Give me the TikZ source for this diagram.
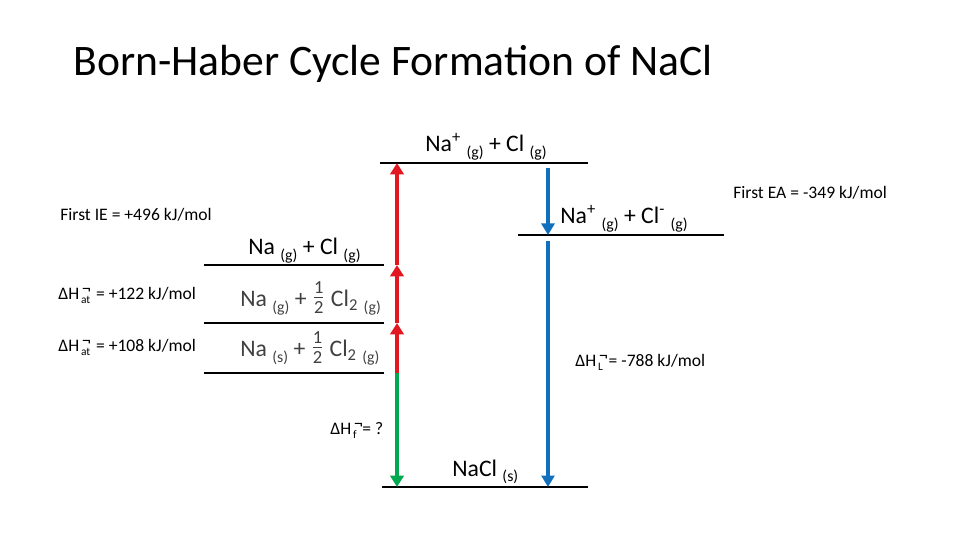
\documentclass[tikz,border=0pt]{standalone}
\usepackage{fontspec}
\setmainfont{Carlito}
\usetikzlibrary{arrows.meta,positioning}
\definecolor{hot}{RGB}{226,24,32}
\definecolor{grass}{RGB}{0,168,80}
\definecolor{sea}{RGB}{16,112,190}
\definecolor{slate}{RGB}{64,64,64}
% phase tag and the standard-enthalpy sign
\newcommand{\phase}[1]{\raisebox{-0.45ex}{\fontsize{9}{9}\selectfont(#1)}}
\newcommand{\stdH}[1]{ΔH\rlap{\raisebox{0.7ex}{\fontsize{10}{10}\selectfont\,¬}}\raisebox{-0.4ex}{\fontsize{6.5}{6.5}\selectfont\,#1}\hspace{0.1em}}
\newcommand{\half}{\raisebox{2pt}{$\frac{\mbox{\fontsize{10.5}{10.5}\selectfont 1\rule[-1.5pt]{0pt}{1pt}}}{\mbox{\fontsize{10.5}{10.5}\selectfont\rule{0pt}{8.5pt}2}}$}}
\tikzset{
  level/.style={draw=black,line width=0.7pt},
  gain/.style={-{Triangle[length=2.3mm,width=2.7mm]},line width=2.8pt,draw=#1},
  gain/.default=hot,
  loss/.style={-{Triangle[length=2.3mm,width=2.6mm]},line width=2.3pt,draw=#1},
  loss/.default=sea,
  species/.style={font=\fontsize{13.5}{16}\selectfont,inner sep=0,anchor=base west},
  note/.style={font=\fontsize{10}{12}\selectfont,inner sep=0,anchor=base west},
}
\begin{document}
\begin{tikzpicture}[x=0.02cm,y=-0.02cm]
  \useasboundingbox (0,0) rectangle (960,540);
  \node[inner sep=0,anchor=base west,font=\fontsize{24.8}{30}\selectfont] (title) at (73,76) {Born-Haber Cycle Formation of NaCl};

  % energy levels
  \coordinate (ionL) at (380,163);  \coordinate (ionR) at (588,163);
  \coordinate (gasL) at (518,235);  \coordinate (gasR) at (724,235);
  \coordinate (atomL) at (204,265); \coordinate (atomR) at (384,265);
  \coordinate (halfL) at (204,323); \coordinate (halfR) at (384,323);
  \coordinate (stdL) at (204,373);  \coordinate (stdR) at (384,373);
  \coordinate (saltL) at (382,487); \coordinate (saltR) at (588,487);
  \foreach \l in {ion,gas,atom,half,std,salt}
    \draw[level] (\l L) -- (\l R);

  \node[species] (ion) at (425,152) {Na\textsuperscript{+} \phase{g} + Cl \phase{g}};
  \node[species] (gas) at (560,224) {Na\textsuperscript{+} \phase{g} + Cl\textsuperscript{-} \phase{g}};
  \node[species] (atom) at (248,255) {Na \phase{g} + Cl \phase{g}};
  \node[species,text=slate] (half) at (240,307) {Na \phase{g} + \half\ Cl\textsubscript{2} \phase{g}};
  \node[species,text=slate] (std) at (240,357) {Na \phase{s} + \half\ Cl\textsubscript{2} \phase{g}};
  \node[species] (salt) at (452,476) {NaCl \phase{s}};

  % arrow ends
  \coordinate (a0) at (397,373); \coordinate (a1) at (397,323);
  \coordinate (a2) at (397,265); \coordinate (a3) at (397,163);
  \coordinate (f1) at (397,487);
  \coordinate (b0) at (548,168); \coordinate (b1) at (548,235);
  \coordinate (b2) at (548,241); \coordinate (b3) at (548,487);
  \draw[gain] (a0) -- (a1);
  \draw[gain] (a1) -- (a2);
  \draw[gain] (a2) -- (a3);
  \draw[gain=grass] (a0) -- (f1);
  \draw[loss] (b0) -- (b1);
  \draw[loss] (b2) -- (b3);

  \node[note] (ie) at (60,221) {First IE = +496 kJ/mol};
  \node[note] (ea) at (733,199) {First EA = -349 kJ/mol};
  \node[note] (at1) at (58,300) {\stdH{at} = +122 kJ/mol};
  \node[note] (at2) at (58,352) {\stdH{at} = +108 kJ/mol};
  \node[note] (latt) at (575,367) {\stdH{L} = -788 kJ/mol};
  \node[note] (form) at (330,435) {\stdH{f} = ?};
\end{tikzpicture}
\end{document}
